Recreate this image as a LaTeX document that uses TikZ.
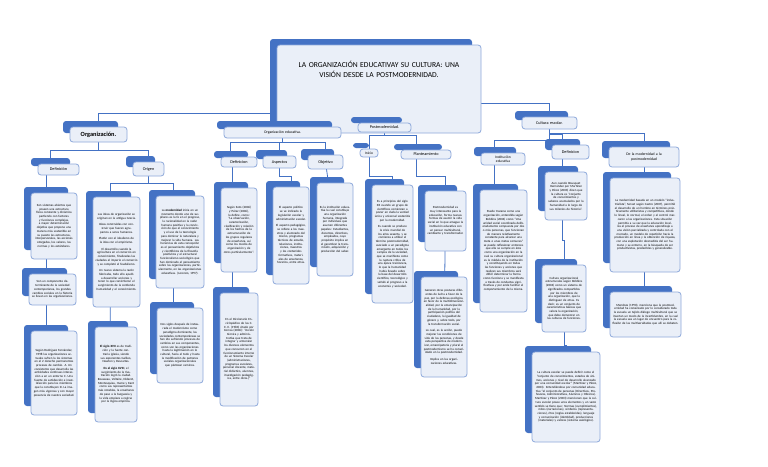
\documentclass[tikz,border=0pt]{standalone}
\usepackage{fontspec}
\setmainfont{Carlito}
\usetikzlibrary{backgrounds}
\definecolor{bk}{HTML}{4472C4}
\definecolor{fr}{HTML}{EAEFF8}
\definecolor{bd}{HTML}{8EA9DB}
\tikzset{front/.style={draw=bd,fill=fr,line width=0.8pt,rounded corners=3pt,inner sep=0pt,align=center},
conn/.style={draw=bk,line width=0.8pt}}
\newcommand\txs{\fontsize{3.15}{3.7}\selectfont}
\newcommand\lbl{\fontsize{4.2}{5}\selectfont}
\newcommand\cm[7][\txs]{%
 \pgfmathsetmacro\ww{#5-#3}\pgfmathsetmacro\hh{#6-#4}\pgfmathsetmacro\tw{#5-#3-5}%
 \fill[bk,rounded corners=3pt] (#3-7,#4-6) rectangle (#5-9,#6-9);
 \node[front,minimum width=\ww pt,minimum height=\hh pt,text width=\tw pt,font=#1] (#2) at ({(#3+#5)/2},{(#4+#6)/2}) {#7};}
\begin{document}
\begin{tikzpicture}[x=1pt,y=-1pt]
\begin{pgfonlayer}{background}
\fill[white] (0,0) rectangle (768,466);
\end{pgfonlayer}
\useasboundingbox (0,0) rectangle (768,466);
% level 0
\cm[\fontsize{7.6}{10}\selectfont]{title}{277}{45}{481}{133}{LA ORGANIZACIÓN EDUCATIVAY SU CULTURA: UNA\\ VISIÓN DESDE LA POSTMODERNIDAD.\\[30pt]\mbox{}}
% level 1
\cm[\fontsize{6.3}{7}\selectfont\bfseries]{org}{70}{127}{127}{142}{Organización.}
\cm[\fontsize{3.8}{4.5}\selectfont]{orged}{224}{127}{341}{138}{Organización educativa.}
\cm[\lbl]{post}{358}{123}{411}{132}{Postmodernidad.}
\cm[\lbl]{cult}{522}{117}{577}{129}{Cultura escolar.}
% level 2
\cm[\lbl]{def}{38}{164}{79}{175}{Definición}
\cm[\lbl]{ori}{133}{162}{164}{176}{Origen}
\cm[\lbl]{defb}{221}{157}{257}{167}{Definicion}
\cm[\lbl]{asp}{263}{156}{296}{168}{Aspectos}
\cm[\lbl]{obj}{308}{155}{343}{169}{Objetivo}
\cm[\fontsize{3.6}{4}\selectfont]{ini}{360}{149}{378}{157}{Inicio}
\cm[\lbl]{pla}{401}{150}{451}{159}{Planteamiento}
\cm[\fontsize{3.6}{4.4}\selectfont]{ins}{481}{153}{525}{165}{Institución\\ educativa}
\cm[\lbl]{defc}{552}{145}{589}{159}{Definicion}
\cm[\fontsize{3.8}{5.2}\selectfont]{mod}{609}{147}{679}{167}{De la modernidad a la\\ postmodernidad}
% content
\cm{A}{31}{193}{77}{259}{Son sistemas abiertos que poseen una estructura física constante y dinámica partiendo con factores y funciones complejas, a mayor determinación objetiva que propone una manera más sostenible en su puesto las estructuras, interpersonales, las acciones otorgadas, los valores, las normas y los estándares.}
\cm{B}{29}{274}{76}{305}{Son un componente determinante de la sociedad contemporánea, los grandes cambios sociales en la historia se llevan en las organizaciones.}
\cm{C}{31}{331}{77}{415}{Según Rodríguez Fernández, 1998 las organizaciones actuales sufren la los sistemas en el 2 derecho permanentes procesos de cambio. A. Un consistente que desarrolla las actividades continuas interacción a en un entorno C. Una fuente de satisfacción e insatisfacción para los miembros que la constituyen D. La imagen más vigorosa y con mayor presencia de nuestra sociedad.}
\cm{D}{93}{197}{140}{307}{Las ideas de organización se originan en la antigua Grecia.\par\smallskip Ideas construidas con construir que fueran agrupamos a seres humanos.\par\smallskip Platón con el idealismo de la idea con el empirismo.\par\smallskip El desarrollo cuando la agricultura en el comercio en conocimiento, finalizadas las ciudades el imperio el comercio y se completó el feudalismo.\par\smallskip Un nuevo sistema la razón fabricaba, todo ello ayudó a desarrollar acciones y tener lo que convirtieron el surgimiento de la contienda humanidad y el conocimiento.}
\cm{E}{95}{327}{137}{422}{\textbf{El siglo XVII} es de tradición y la fuerte contraria iglesia, siendo sus exponentes Galileo, Newton y Descartes.\par\smallskip \textbf{En el siglo XVIII}, el surgimiento de la Ilustración logró la ciudad. Rousseau, Voltaire, Diderot, Montesquieu, Hume y Kant como sus representantes más notables, la enseñanza de paso a la burguesía y la vida empieza a regirse por la lógica empírica.}
\cm{F}{156}{196}{204}{288}{La \textbf{modernidad} inicia en un momento donde uno de sus pilares es la fe en el progreso, la racionalidad en la razón humana positiva y la convicción de que el conocimiento y el uso de la tecnología para dominar la naturaleza y mejorar la vida humana. Las herencias de esta concepción es el pensamiento objetivista y cientificista de la filosofía positivista y el estructural funcionalismo sociológico que han dominado el pensamiento sobre las organizaciones, particularmente, en las organizaciones educativas. (Lorenzo, 1997).}
\cm{G}{157}{308}{203}{383}{Dos siglos después de instaurada el modernismo como paradigma dominante, las sociedades contemporáneas se han ido sufriendo procesos de cambios en sus componentes, como son las organizaciones hasta la legitimación en lo cultural, hacia el todo y hasta la modificación de patrones sociales organizacionales que plantean caminos.}
\cm{H}{221}{188}{257}{272}{Según Soto (2006) y Pérez (2006), la define, como: ``La observación, caracterización, clasificación y relación de los hechos de la estructuración de los grupos regulares de enseñanza, así como los modos de organización y de otros particularmente''.}
\cm{I}{220}{293}{258}{406}{En el Diccionario Enciclopédico de las C. E. E. (1983) citado por Correa (2006): ``Acción técnica y administrativa que trata de integrar y armonizar los diversos elementos que concurren en el funcionamiento interno de un Sistema Escolar (administraciones, programas escolares, personal docente, material didáctico, alumnos, investigación pedagógica, entre otros.)''}
\cm{J}{273}{187}{309}{284}{El aspecto político se ve indicado la legislación escolar y administración escolar.\par\smallskip El aspecto pedagógico, se refiere a los maestros y alumnado del mismo, programas técnicos de estudio, relaciones, instituciones, maestros y los contenidos formativos, materiales de enseñanza, horarios, entre otras.}
\cm{K}{317}{183}{353}{276}{Es la institución educativa la cual constituye una organización humana, integrada por individuos que asumen diferentes papeles: Estudiantes, docentes, directivos, empleados, cuyo propósito implica en el garantizar la transmisión, adquisición y producción del saber.}
\cm{L}{372}{185}{413}{303}{Es a principios del siglo XX cuando un grupo de científicos comienzan a poner en duda la verdad única y universal sostenida por la modernidad.\par\smallskip Es cuando se produce la crisis mundial de los años sesenta, y se comienza a utilizar el término postmodernidad, asociado a un paradigma emergente en todos los campos de la sociedad, que se manifiesta como la ruptura crítica de una época traicionera, lo que la humanidad había llevado sobre la base del desarrollo científico, tecnológico y señaló al progreso a la economía y sociedad.}
\cm{M}{425}{191}{466}{251}{Postmodernidad es muy interesante para la educación, forma nuevas formas de asumir la vida social en lo que amague la institución educativa con un pensar multicultural, cambiante y transformador.}
\cm{N}{421}{277}{467}{377}{Generan otras posturas diferentes de lucha a favor de la paz, por la defensa ecológica, en favor de la multidimensionalidad, por la emancipación de la humanidad, por la participación política del ciudadano, la igualdad de género y, sobre todo, por la transformación social.\par\smallskip Lo cual, es la acción, puede mejorar las condiciones de vida de las personas, y desde esta perspectiva de modernizar, emancipatoria y plural el postmodernismo se ha consolidado en la postmodernidad.\par\smallskip Implica en las organizaciones educativas.}
\cm{O}{480}{190}{527}{312}{Puede trazarse como una organización, entendida según Robbins (2004) como ``Una unidad social coordinada deliberadamente compuesta por dos o más personas, que funcionan de manera relativamente constante para alcanzar una meta o unas metas comunes'' se puede reflexionar entonces que ella se cumple en ésta como una organización en la cual su cultura organizacional es la médula de la institución y constituyendo en todas las funciones y acciones que realizan sus miembros será difícil determinar la forma como funciona y se manifiesta a través de conductas significativas y por ende facilitar el comportamiento de la misma.}
\cm{P}{545}{172}{587}{220}{Aun cuando Bousquet Hernández por Martínez y Pérez (2003) dicen que la cultura es ``conjunto de conocimientos y saberes acumulados por la humanidad a lo largo de sus milenios de historia''.}
\cm{Q}{542}{265}{586}{332}{Cultura organizacional estructurales según Robbins (2004) como un sistema de significados compartidos por los miembros de una organización, que la distinguen de otras. Es decir, es un conjunto de características básicas que valora la organización, que debe demostrar en las culturas de funciones.}
\cm{R}{532}{352}{600}{442}{La cultura escolar se puede definir como el ``conjunto de conocimientos, estados de ánimos, acciones y nivel de desarrollo alcanzado por una comunidad escolar'' (Martínez y Pérez, 2003). Entendiéndose por comunidad educativa ``el conjunto de personas (Directivos, Profesores, Administrativos, Alumnos y Obreros). Martínez y Pérez (2003) mencionan que la cultura escolar posee unos elementos y un vasto sentido se tiene que: Normas (cumplimientos), mitos (narraciones), símbolos (representaciones), ritos (reglas establecidas), lenguaje y comunicación (identidad), producciones (materiales) y valores (sistema axiológico).}
\cm{S}{610}{178}{680}{272}{La modernidad basada en un modelo ``industrialista'', Servat según Castro (2007), permitió el desarrollo de un hombre en términos prácticamente utilitaristas y competitivos, donde lo lineal, lo normal, el orden y el control marcaron a las organizaciones. Esta situación permitía a su vez que la educación localiza el proceso de enseñanza aprendizaje a una visión parcializada y controlada con el mercado, un modelo de repetición hacia la producción en línea y la obtención de riqueza, con una explotación desmedida del ser humano y su entorno, en la búsqueda de ser productivistas, predecibles y generalizable.}
\cm{T}{610}{292}{681}{337}{Mendoza (1990), menciona que la postmodernidad ha comenzado por lo considerado toda la escuela un tejido diálogo multicultural que se insertan un modo de la incertidumbre, en la cual la escuela sea un lugar de encuentro para la reflexión de las multiversidades que allí se debaten.}
% connectors
\begin{pgfonlayer}{background}
\draw[conn] (title.center) -- (title.center |- 0,113) -| (org.center);
\draw[conn] (title.center |- 0,113) -| (orged.center);
\draw[conn] (title.center |- 0,113) -| (post.center);
\draw[conn] (title.center) -- (title.center |- 0,103) -| (cult.center);
\draw[conn] (org.center) -- (org.center |- 0,150) -| ([xshift=-8pt]def.center);
\draw[conn] (org.center |- 0,150) -| (ori.center);
\draw[conn] ([xshift=-12pt]def.center) -- ([xshift=-12pt]def.center |- C.center);
\draw[conn] (ori.center) -- (ori.center |- 0,183) -| ([xshift=-6pt]D.center);
\draw[conn] (ori.center |- 0,183) -| ([xshift=-7pt]F.center);
\draw[conn] ([xshift=-6pt]D.center) -- ([xshift=-6pt]E.center);
\draw[conn] ([xshift=-7pt]F.center) -- ([xshift=-7pt]G.center);
\draw[conn] (orged.center) -- (orged.center |- 0,142) -| ([xshift=-9pt]defb.center);
\draw[conn] (orged.center |- 0,142) -| (asp.center);
\draw[conn] (orged.center |- 0,142) -| (obj.center);
\draw[conn] ([xshift=-7pt]defb.center) -- ([xshift=-7pt]defb.center |- I.center);
\draw[conn] (asp.center) -- (asp.center |- 0,176) -| (J.center);
\draw[conn] (obj.center) -- (K.center);
\draw[conn] (post.center) -- (post.center |- 0,135) -| (ini.center);
\draw[conn] (post.center |- 0,135) -| ([xshift=-10pt]pla.center);
\draw[conn] (ini.center) -- (ini.center |- 0,176) -| (L.center);
\draw[conn] ([xshift=-10pt]pla.center) -- ([xshift=-10pt]pla.center |- 0,176) -| (M.center);
\draw[conn] (M.center) -- (N.center);
\draw[conn] (cult.center) -- (cult.center |- 0,140) -| ([xshift=-9pt]ins.center);
\draw[conn] (cult.center |- 0,134) -| ([xshift=-8pt]defc.center);
\draw[conn] (cult.center |- 0,133) -| (mod.center);
\draw[conn] ([xshift=-9pt]ins.center) -- ([xshift=-9pt]ins.center |- O.center);
\draw[conn] ([xshift=-8pt]defc.center) -- ([xshift=-8pt]defc.center |- 0,240) -| (Q.center);
\draw[conn] (Q.center) -- (Q.center |- 0,345) -| (R.center);
\draw[conn] (mod.center) -- (mod.center |- T.center);
\end{pgfonlayer}
\end{tikzpicture}
\end{document}
